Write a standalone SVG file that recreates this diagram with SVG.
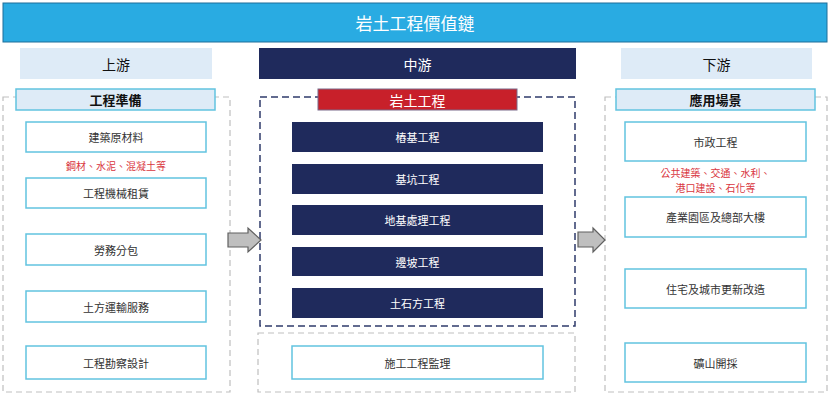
<svg xmlns="http://www.w3.org/2000/svg" width="830" height="400" viewBox="0 0 830 400" xml:lang="zh-TW" lang="zh-TW">
<style>
text{font-family:"Noto Sans CJK TC","Noto Sans CJK SC",sans-serif;text-anchor:middle;dominant-baseline:central}
.tab{fill:#DEEBF7}
.tabt{font-size:14px;fill:#111}
.panel{fill:none;stroke:#BFBFBF;stroke-width:1.2;stroke-dasharray:6 4}
.hdr{fill:#DEEBF7;stroke:#62C3E0;stroke-width:1.5}
.hdrt{font-size:13px;font-weight:bold;fill:#111}
.wb{fill:#fff;stroke:#62C3E0;stroke-width:1.5}
.wt{font-size:11px;fill:#333}
.nb{fill:#1F2A5C}
.nt{font-size:11px;fill:#fff}
.red{font-size:10px;fill:#D9363E}
.arr{fill:#BFBFBF;stroke:#606060;stroke-width:1.2}
</style>
<rect x="0" y="0" width="830" height="400" fill="#fff"/>
<g id="title">
<rect x="3" y="3" width="824" height="39" fill="#29ABE2" stroke="#1F6F9A" stroke-width="1"/>
<text x="415" y="22" style="font-size:17px;fill:#fff">岩土工程價值鏈</text>
</g>
<g id="tab-up"><rect class="tab" x="20" y="48" width="192" height="31"/><text class="tabt" x="116" y="63.5">上游</text></g>
<g id="tab-mid"><rect x="259" y="48" width="317" height="31" fill="#1F2A5C"/><text class="tabt" x="417.5" y="63.5" style="fill:#fff">中游</text></g>
<g id="tab-down"><rect class="tab" x="621" y="48" width="191" height="31"/><text class="tabt" x="716.5" y="63.5">下游</text></g>

<g id="upstream">
<rect class="panel" x="3" y="97" width="227" height="295"/>
<rect class="hdr" x="16" y="89" width="199" height="21"/><text class="hdrt" x="115.5" y="99.5">工程準備</text>
<g id="u1"><rect class="wb" x="26" y="122" width="180" height="30"/><text class="wt" x="116" y="137">建築原材料</text></g>
<text class="red" x="116" y="165">鋼材、水泥、混凝土等</text>
<g id="u2"><rect class="wb" x="26" y="178" width="180" height="30"/><text class="wt" x="116" y="193">工程機械租賃</text></g>
<g id="u3"><rect class="wb" x="26" y="234" width="180" height="31"/><text class="wt" x="116" y="249.5">勞務分包</text></g>
<g id="u4"><rect class="wb" x="26" y="291" width="180" height="31"/><text class="wt" x="116" y="306.5">土方運輸服務</text></g>
<g id="u5"><rect class="wb" x="26" y="346" width="180" height="33"/><text class="wt" x="116" y="362.5">工程勘察設計</text></g>
</g>

<g id="midstream">
<rect x="260" y="97" width="315" height="229" fill="none" stroke="#2F3B6B" stroke-width="1.5" stroke-dasharray="7 4"/>
<rect x="318" y="89" width="199" height="21" fill="#C8202A" stroke="#7A6A8A" stroke-width="1"/><text class="hdrt" x="417.5" y="99.5" style="fill:#fff;font-weight:normal;font-size:14px">岩土工程</text>
<g id="m1"><rect class="nb" x="292" y="122" width="251" height="30"/><text class="nt" x="417.5" y="137">樁基工程</text></g>
<g id="m2"><rect class="nb" x="292" y="164" width="251" height="30"/><text class="nt" x="417.5" y="179">基坑工程</text></g>
<g id="m3"><rect class="nb" x="292" y="205" width="251" height="30"/><text class="nt" x="417.5" y="220">地基處理工程</text></g>
<g id="m4"><rect class="nb" x="292" y="247" width="251" height="29"/><text class="nt" x="417.5" y="261.5">邊坡工程</text></g>
<g id="m5"><rect class="nb" x="292" y="288" width="251" height="30"/><text class="nt" x="417.5" y="303">土石方工程</text></g>
<rect class="panel" x="258" y="333" width="317" height="59"/>
<g id="m6"><rect class="wb" x="292" y="346" width="251" height="33"/><text class="wt" x="417.5" y="362.5">施工工程監理</text></g>
</g>

<g id="downstream">
<rect class="panel" x="605" y="97" width="222" height="295"/>
<rect class="hdr" x="616" y="89" width="199" height="21"/><text class="hdrt" x="715.5" y="99.5">應用場景</text>
<g id="d1"><rect class="wb" x="625" y="122" width="181" height="39"/><text class="wt" x="715.5" y="141.5">市政工程</text></g>
<text class="red" x="715.5" y="172">公共建築、交通、水利、</text>
<text class="red" x="715.5" y="187">港口建設、石化等</text>
<g id="d2"><rect class="wb" x="625" y="197" width="181" height="40"/><text class="wt" x="715.5" y="217">產業園區及總部大樓</text></g>
<g id="d3"><rect class="wb" x="625" y="269" width="181" height="39"/><text class="wt" x="715.5" y="288.5">住宅及城市更新改造</text></g>
<g id="d4"><rect class="wb" x="625" y="343" width="181" height="39"/><text class="wt" x="715.5" y="362.5">礦山開採</text></g>
</g>

<g id="connectors">
<path class="arr" d="M228,233 H248 V228 L261,240 L248,252 V247 H228 Z"/>
<path class="arr" d="M578,232 H593 V228 L605,240 L593,252 V247 H578 Z"/>
</g>
</svg>
